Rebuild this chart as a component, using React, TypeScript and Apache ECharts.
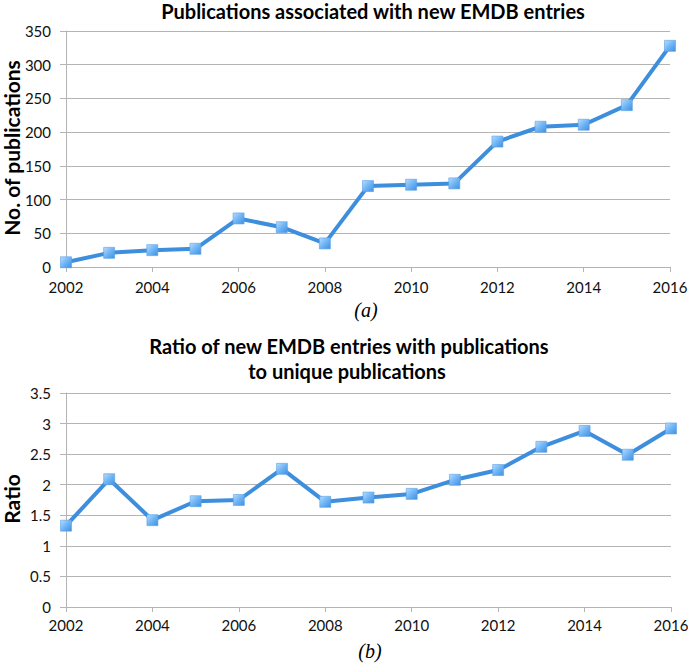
import React, { useEffect, useRef } from "react";
import * as echarts from "echarts";

const YEARS = [2002, 2003, 2004, 2005, 2006, 2007, 2008, 2009, 2010, 2011, 2012, 2013, 2014, 2015, 2016];
const PUBLICATIONS = [7, 21, 25, 27, 72, 59, 35, 120, 122, 124, 186, 208, 211, 240, 328];
const RATIO = [1.33, 2.09, 1.42, 1.73, 1.75, 2.26, 1.72, 1.79, 1.85, 2.08, 2.24, 2.62, 2.88, 2.49, 2.92];

const TITLE_A = "Publications associated with new EMDB entries";
const TITLE_B = ["Ratio of new EMDB entries with publications", "to unique publications"];
const Y_NAME_A = "No. of publications";
const Y_NAME_B = "Ratio";

const FONT = "Lato, 'Open Sans', sans-serif";
const LINE_COLOR = "#3e8ede";
const GRID_COLOR = "#b4b4b4";

const markerStyle = {
  color: new echarts.graphic.LinearGradient(0, 0, 1, 1, [
    { offset: 0, color: "#b6dcff" },
    { offset: 0.5, color: "#6fb5f5" },
    { offset: 1, color: "#3f8fe2" },
  ]),
  borderColor: "#5a9fe4",
  borderWidth: 0.6,
};

const xAxisFor = (gridIndex: number, margin: number) => ({
  type: "value" as const,
  gridIndex,
  min: 2002,
  max: 2016,
  interval: 2,
  axisLine: { show: true, lineStyle: { color: GRID_COLOR, width: 1 } },
  axisTick: { show: true, length: 5, lineStyle: { color: GRID_COLOR } },
  splitLine: { show: false },
  axisLabel: {
    color: "#111",
    fontSize: 15,
    fontFamily: FONT,
    margin,
    formatter: (v: number) => String(v),
  },
});

const yAxisFor = (gridIndex: number, max: number, interval: number) => ({
  type: "value" as const,
  gridIndex,
  min: 0,
  max,
  interval,
  axisLine: { show: true, lineStyle: { color: GRID_COLOR } },
  axisTick: { show: true, length: 6, lineStyle: { color: GRID_COLOR } },
  splitLine: { lineStyle: { color: GRID_COLOR, width: 1 } },
  axisLabel: { color: "#111", fontSize: 15, fontFamily: FONT, margin: 15 },
});

const boldText = (text: string, x: number, y: number, size: number, rotation = 0) => ({
  type: "text" as const,
  x,
  y,
  rotation,
  style: {
    text,
    align: "center" as const,
    verticalAlign: "middle" as const,
    font: `bold ${size}px ${FONT}`,
    fill: "#000",
  },
});

const panelLabel = (text: string, x: number, y: number) => ({
  type: "text" as const,
  x,
  y,
  style: {
    text,
    align: "center" as const,
    verticalAlign: "middle" as const,
    font: "italic 20px 'Liberation Serif', 'DejaVu Serif', serif",
    fill: "#000",
  },
});

const App: React.FC = () => {
  const chartRef = useRef<HTMLDivElement | null>(null);

  useEffect(() => {
    if (!chartRef.current) return;
    const chart = echarts.init(chartRef.current, undefined, { renderer: "svg" });

    const options: echarts.EChartsOption = {
      animation: false,
      backgroundColor: "#fff",
      grid: [
        { left: 66, right: 18, top: 31, bottom: 398, outerBoundsMode: "none" },
        { left: 66, right: 17, top: 393, bottom: 58, outerBoundsMode: "none" },
      ] as any,
      xAxis: [xAxisFor(0, 12), xAxisFor(1, 10)],
      yAxis: [yAxisFor(0, 350, 50), yAxisFor(1, 3.5, 0.5)],
      graphic: [
        boldText(TITLE_A, 373, 11, 20),
        boldText(TITLE_B[0], 349, 346, 20),
        boldText(TITLE_B[1], 347, 371, 20),
        boldText(Y_NAME_A, 11, 148, 21, Math.PI / 2),
        boldText(Y_NAME_B, 11, 499, 21, Math.PI / 2),
        panelLabel("(a)", 366, 310),
        panelLabel("(b)", 370, 651),
      ],
      series: [
        {
          type: "line",
          xAxisIndex: 0,
          yAxisIndex: 0,
          data: YEARS.map((y, i) => [y, PUBLICATIONS[i]]),
          symbol: "rect",
          symbolSize: 11,
          lineStyle: { color: LINE_COLOR, width: 4 },
          itemStyle: markerStyle,
        },
        {
          type: "line",
          xAxisIndex: 1,
          yAxisIndex: 1,
          data: YEARS.map((y, i) => [y, RATIO[i]]),
          symbol: "rect",
          symbolSize: 11,
          lineStyle: { color: LINE_COLOR, width: 4 },
          itemStyle: markerStyle,
        },
      ],
    };

    chart.setOption(options);
    return () => chart.dispose();
  }, []);

  return (
    <div
      ref={chartRef}
      style={{ position: "absolute", left: 0, top: 0, width: 688, height: 665 }}
    />
  );
};

export default App;
